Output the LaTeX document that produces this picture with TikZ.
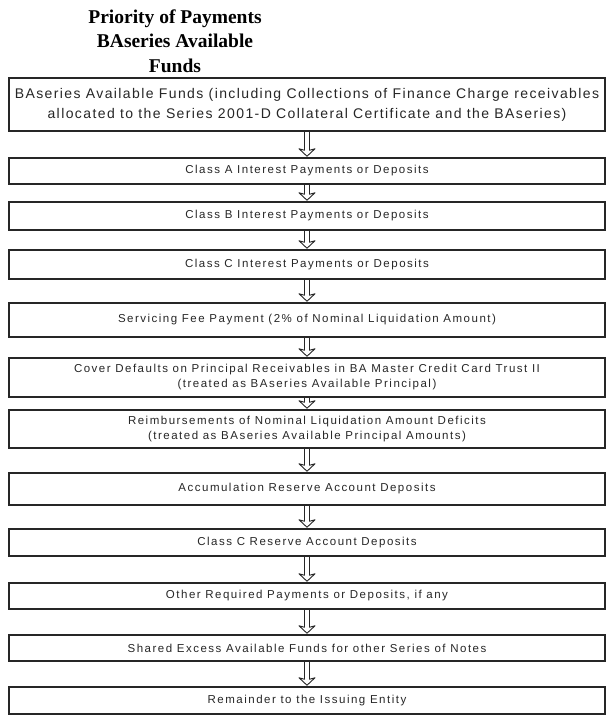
\documentclass[tikz,border=0pt]{standalone}
\usepackage{fontspec}
\newfontfamily\ttlfont{Liberation Serif}
\newfontfamily\bxfont[LetterSpace=13]{Liberation Sans}
\newfontfamily\bxbigfont[LetterSpace=10]{Liberation Sans}
\tikzset{
  box/.style={draw=black!85, line width=1.5pt, minimum width=596pt, inner sep=0pt,
    align=center, text=black!85, font=\bxfont\fontsize{11.5}{15}\selectfont},
  flow/.style={draw=black!85, line width=0.9pt, line join=round},
  ttl/.style={anchor=base, inner sep=0pt, font=\ttlfont\bfseries\fontsize{19.5}{24}\selectfont}
}
\begin{document}
\begin{tikzpicture}
\useasboundingbox (0,0) rectangle (608pt,-717pt);
\node[ttl] (t1) at (175pt,-24pt) {Priority of Payments};
\node[ttl] (t2) at (175pt,-48pt) {BAseries Available};
\node[ttl] (t3) at (175pt,-72pt) {Funds};

\node[box, minimum height=53pt, font=\bxbigfont\fontsize{14}{20}\selectfont] (b1) at (307pt,-104.5pt)
  {BAseries Available Funds (including Collections of Finance Charge receivables\\allocated to the Series 2001-D Collateral Certificate and the BAseries)};
\node[box, minimum height=26pt] (b2) at (307pt,-171pt) {Class A Interest Payments or Deposits};
\node[box, minimum height=28pt] (b3) at (307pt,-216pt) {Class B Interest Payments or Deposits};
\node[box, minimum height=29pt] (b4) at (307pt,-264.5pt) {Class C Interest Payments or Deposits};
\node[box, minimum height=34pt] (b5) at (307pt,-320pt) {Servicing Fee Payment (2\% of Nominal Liquidation Amount)};
\node[box, minimum height=39pt] (b6) at (307pt,-377.5pt) {Cover Defaults on Principal Receivables in BA Master Credit Card Trust II\\(treated as BAseries Available Principal)};
\node[box, minimum height=38pt] (b7) at (307pt,-429pt) {Reimbursements of Nominal Liquidation Amount Deficits\\(treated as BAseries Available Principal Amounts)};
\node[box, minimum height=32pt] (b8) at (307pt,-489pt) {Accumulation Reserve Account Deposits};
\node[box, minimum height=27pt] (b9) at (307pt,-542.5pt) {Class C Reserve Account Deposits};
\node[box, minimum height=26pt] (b10) at (307pt,-596pt) {Other Required Payments or Deposits, if any};
\node[box, minimum height=26pt] (b11) at (307pt,-648pt) {Shared Excess Available Funds for other Series of Notes};
\node[box, minimum height=27pt] (b12) at (307pt,-700.5pt) {Remainder to the Issuing Entity};

\foreach \a/\b in {b1/b2,b2/b3,b3/b4,b4/b5,b5/b6,b6/b7,b7/b8,b8/b9,b9/b10,b10/b11,b11/b12}
  \draw[flow] ([xshift=-2.5pt]\a.south) -- ([xshift=-2.5pt,yshift=7pt]\b.north)
    -- ([xshift=-8pt,yshift=8.5pt]\b.north) -- ([yshift=1pt]\b.north)
    -- ([xshift=8pt,yshift=8.5pt]\b.north) -- ([xshift=2.5pt,yshift=7pt]\b.north)
    -- ([xshift=2.5pt]\a.south);
\end{tikzpicture}
\end{document}
